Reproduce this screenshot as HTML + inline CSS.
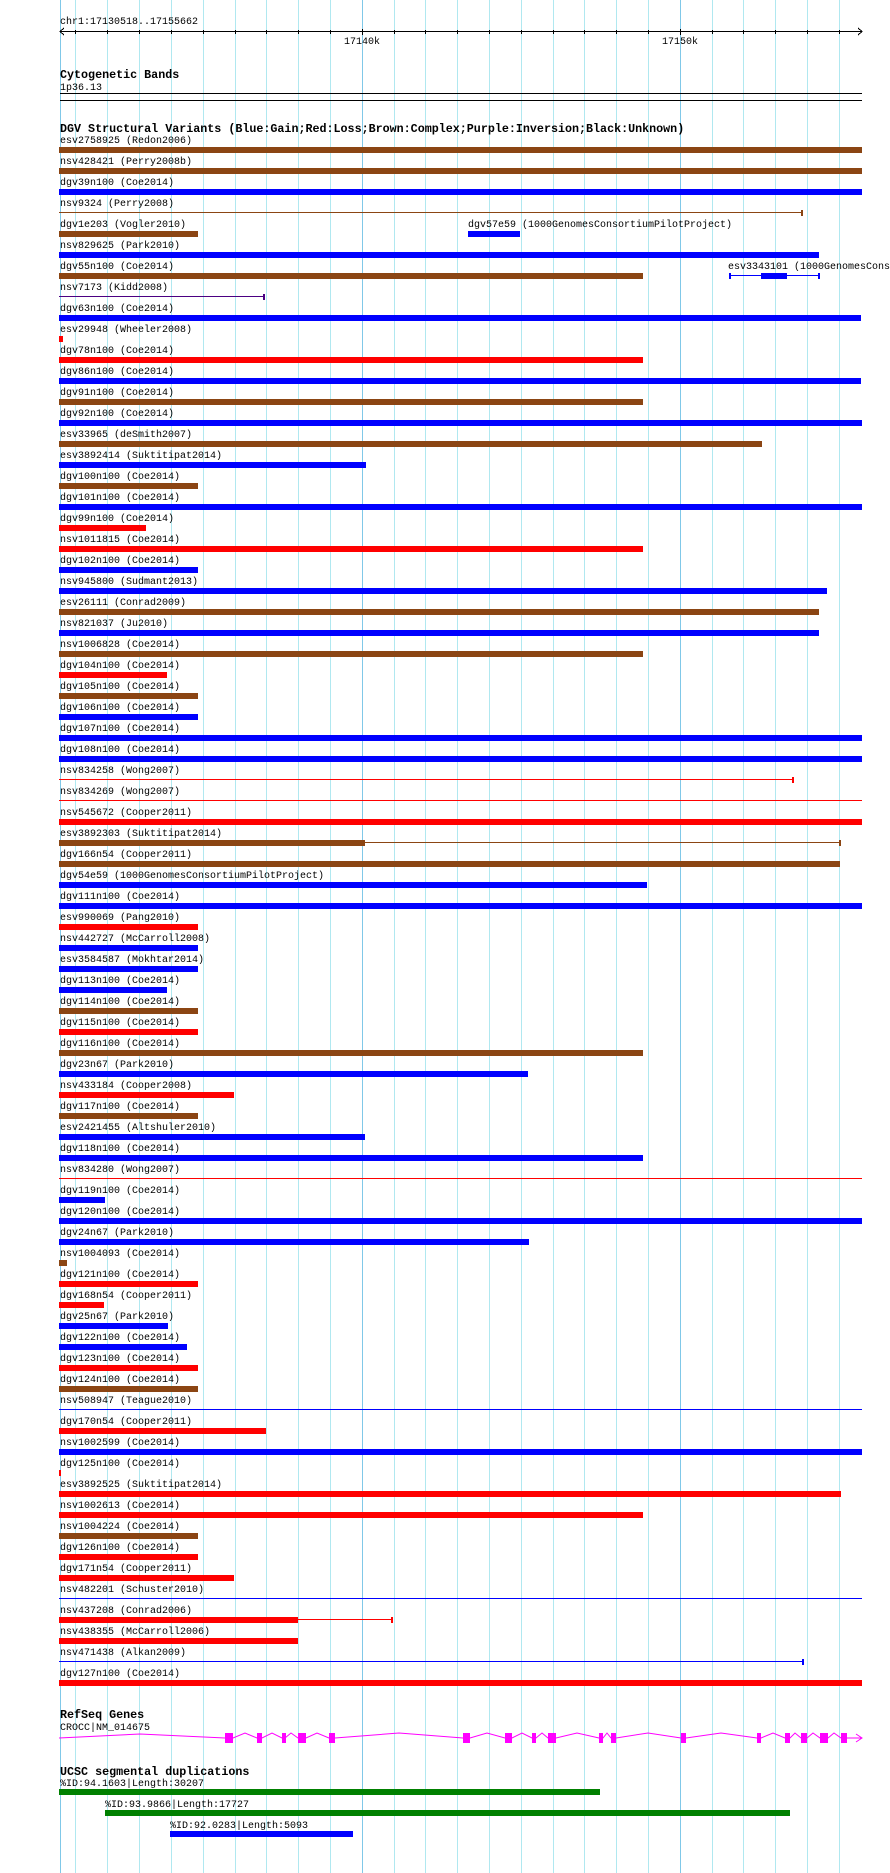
<!DOCTYPE html>
<html><head><meta charset="utf-8"><style>
html,body{margin:0;padding:0;background:#fff;}
svg{display:block;}
text{font-family:"Liberation Mono",monospace;font-size:10px;fill:#000;}
.b{font-weight:bold;font-size:11.7px;}
</style></head><body>
<svg width="890" height="1873" viewBox="0 0 890 1873" shape-rendering="crispEdges">
<g stroke="#b0e8f0" stroke-width="1">
<line x1="75.5" y1="0" x2="75.5" y2="1873"/>
<line x1="107.5" y1="0" x2="107.5" y2="1873"/><line x1="139.5" y1="0" x2="139.5" y2="1873"/><line x1="171.5" y1="0" x2="171.5" y2="1873"/><line x1="203.5" y1="0" x2="203.5" y2="1873"/><line x1="235.5" y1="0" x2="235.5" y2="1873"/><line x1="266.5" y1="0" x2="266.5" y2="1873"/><line x1="298.5" y1="0" x2="298.5" y2="1873"/><line x1="330.5" y1="0" x2="330.5" y2="1873"/><line x1="394.5" y1="0" x2="394.5" y2="1873"/><line x1="425.5" y1="0" x2="425.5" y2="1873"/><line x1="457.5" y1="0" x2="457.5" y2="1873"/><line x1="489.5" y1="0" x2="489.5" y2="1873"/><line x1="521.5" y1="0" x2="521.5" y2="1873"/><line x1="553.5" y1="0" x2="553.5" y2="1873"/><line x1="584.5" y1="0" x2="584.5" y2="1873"/><line x1="616.5" y1="0" x2="616.5" y2="1873"/><line x1="648.5" y1="0" x2="648.5" y2="1873"/><line x1="712.5" y1="0" x2="712.5" y2="1873"/><line x1="743.5" y1="0" x2="743.5" y2="1873"/><line x1="775.5" y1="0" x2="775.5" y2="1873"/><line x1="807.5" y1="0" x2="807.5" y2="1873"/><line x1="839.5" y1="0" x2="839.5" y2="1873"/>
</g>
<g stroke="#80c8e8" stroke-width="1">
<line x1="60.5" y1="0" x2="60.5" y2="1873"/><line x1="362.5" y1="0" x2="362.5" y2="1873"/><line x1="680.5" y1="0" x2="680.5" y2="1873"/>
</g>
<!-- ruler -->
<text x="60" y="24">chr1:17130518..17155662</text>
<g stroke="#000" stroke-width="1">
<line x1="60" y1="31.5" x2="862" y2="31.5"/>
<polyline points="64,28 60,31.5 64,35" fill="none"/>
<polyline points="858,28 862,31.5 858,35" fill="none"/>
<line x1="75.5" y1="30" x2="75.5" y2="34"/><line x1="107.5" y1="30" x2="107.5" y2="34"/><line x1="139.5" y1="30" x2="139.5" y2="34"/><line x1="171.5" y1="30" x2="171.5" y2="34"/><line x1="203.5" y1="30" x2="203.5" y2="34"/><line x1="235.5" y1="30" x2="235.5" y2="34"/><line x1="266.5" y1="30" x2="266.5" y2="34"/><line x1="298.5" y1="30" x2="298.5" y2="34"/><line x1="330.5" y1="30" x2="330.5" y2="34"/><line x1="362.5" y1="29" x2="362.5" y2="35"/><line x1="394.5" y1="30" x2="394.5" y2="34"/><line x1="425.5" y1="30" x2="425.5" y2="34"/><line x1="457.5" y1="30" x2="457.5" y2="34"/><line x1="489.5" y1="30" x2="489.5" y2="34"/><line x1="521.5" y1="30" x2="521.5" y2="34"/><line x1="553.5" y1="30" x2="553.5" y2="34"/><line x1="584.5" y1="30" x2="584.5" y2="34"/><line x1="616.5" y1="30" x2="616.5" y2="34"/><line x1="648.5" y1="30" x2="648.5" y2="34"/><line x1="680.5" y1="29" x2="680.5" y2="35"/><line x1="712.5" y1="30" x2="712.5" y2="34"/><line x1="743.5" y1="30" x2="743.5" y2="34"/><line x1="775.5" y1="30" x2="775.5" y2="34"/><line x1="807.5" y1="30" x2="807.5" y2="34"/><line x1="839.5" y1="30" x2="839.5" y2="34"/>
</g>
<text x="362" y="44" text-anchor="middle">17140k</text>
<text x="680" y="44" text-anchor="middle">17150k</text>
<!-- cyto -->
<text class="b" x="60" y="78">Cytogenetic Bands</text>
<text x="60" y="90">1p36.13</text>
<rect x="60" y="93" width="802" height="1" fill="#000"/>
<rect x="60" y="100" width="802" height="1" fill="#000"/>
<text class="b" x="60" y="132">DGV Structural Variants (Blue:Gain;Red:Loss;Brown:Complex;Purple:Inversion;Black:Unknown)</text>
<!-- rows -->
<g>
<text x="60" y="143">esv2758925 (Redon2006)</text><rect x="59" y="147" width="803" height="6" fill="#8b4513"/>
<text x="60" y="164">nsv428421 (Perry2008b)</text><rect x="59" y="168" width="803" height="6" fill="#8b4513"/>
<text x="60" y="185">dgv39n100 (Coe2014)</text><rect x="59" y="189" width="803" height="6" fill="#0000ff"/>
<text x="60" y="206">nsv9324 (Perry2008)</text><rect x="59" y="212" width="743" height="1" fill="#8b4513"/><rect x="801" y="210" width="2" height="6" fill="#8b4513"/>
<text x="60" y="227">dgv1e203 (Vogler2010)</text><rect x="59" y="231" width="139" height="6" fill="#8b4513"/>
<text x="468" y="227">dgv57e59 (1000GenomesConsortiumPilotProject)</text><rect x="468" y="231" width="52" height="6" fill="#0000ff"/>
<text x="60" y="248">nsv829625 (Park2010)</text><rect x="59" y="252" width="760" height="6" fill="#0000ff"/>
<text x="60" y="269">dgv55n100 (Coe2014)</text><rect x="59" y="273" width="584" height="6" fill="#8b4513"/>
<text x="728" y="269">esv3343101 (1000GenomesCons</text><rect x="729" y="275" width="90" height="1" fill="#0000ff"/><rect x="729" y="273" width="2" height="6" fill="#0000ff"/><rect x="818" y="273" width="2" height="6" fill="#0000ff"/><rect x="761" y="273" width="26" height="6" fill="#0000ff"/>
<text x="60" y="290">nsv7173 (Kidd2008)</text><rect x="59" y="296" width="205" height="1" fill="#4b0082"/><rect x="263" y="294" width="2" height="6" fill="#4b0082"/>
<text x="60" y="311">dgv63n100 (Coe2014)</text><rect x="59" y="315" width="802" height="6" fill="#0000ff"/>
<text x="60" y="332">esv29948 (Wheeler2008)</text><rect x="59" y="336" width="4" height="6" fill="#ff0000"/>
<text x="60" y="353">dgv78n100 (Coe2014)</text><rect x="59" y="357" width="584" height="6" fill="#ff0000"/>
<text x="60" y="374">dgv86n100 (Coe2014)</text><rect x="59" y="378" width="802" height="6" fill="#0000ff"/>
<text x="60" y="395">dgv91n100 (Coe2014)</text><rect x="59" y="399" width="584" height="6" fill="#8b4513"/>
<text x="60" y="416">dgv92n100 (Coe2014)</text><rect x="59" y="420" width="803" height="6" fill="#0000ff"/>
<text x="60" y="437">esv33965 (deSmith2007)</text><rect x="59" y="441" width="703" height="6" fill="#8b4513"/>
<text x="60" y="458">esv3892414 (Suktitipat2014)</text><rect x="59" y="462" width="307" height="6" fill="#0000ff"/>
<text x="60" y="479">dgv100n100 (Coe2014)</text><rect x="59" y="483" width="139" height="6" fill="#8b4513"/>
<text x="60" y="500">dgv101n100 (Coe2014)</text><rect x="59" y="504" width="803" height="6" fill="#0000ff"/>
<text x="60" y="521">dgv99n100 (Coe2014)</text><rect x="59" y="525" width="87" height="6" fill="#ff0000"/>
<text x="60" y="542">nsv1011815 (Coe2014)</text><rect x="59" y="546" width="584" height="6" fill="#ff0000"/>
<text x="60" y="563">dgv102n100 (Coe2014)</text><rect x="59" y="567" width="139" height="6" fill="#0000ff"/>
<text x="60" y="584">nsv945800 (Sudmant2013)</text><rect x="59" y="588" width="768" height="6" fill="#0000ff"/>
<text x="60" y="605">esv26111 (Conrad2009)</text><rect x="59" y="609" width="760" height="6" fill="#8b4513"/>
<text x="60" y="626">nsv821037 (Ju2010)</text><rect x="59" y="630" width="760" height="6" fill="#0000ff"/>
<text x="60" y="647">nsv1006828 (Coe2014)</text><rect x="59" y="651" width="584" height="6" fill="#8b4513"/>
<text x="60" y="668">dgv104n100 (Coe2014)</text><rect x="59" y="672" width="108" height="6" fill="#ff0000"/>
<text x="60" y="689">dgv105n100 (Coe2014)</text><rect x="59" y="693" width="139" height="6" fill="#8b4513"/>
<text x="60" y="710">dgv106n100 (Coe2014)</text><rect x="59" y="714" width="139" height="6" fill="#0000ff"/>
<text x="60" y="731">dgv107n100 (Coe2014)</text><rect x="59" y="735" width="803" height="6" fill="#0000ff"/>
<text x="60" y="752">dgv108n100 (Coe2014)</text><rect x="59" y="756" width="803" height="6" fill="#0000ff"/>
<text x="60" y="773">nsv834258 (Wong2007)</text><rect x="59" y="779" width="734" height="1" fill="#ff0000"/><rect x="792" y="777" width="2" height="6" fill="#ff0000"/>
<text x="60" y="794">nsv834269 (Wong2007)</text><rect x="59" y="800" width="803" height="1" fill="#ff0000"/>
<text x="60" y="815">nsv545672 (Cooper2011)</text><rect x="59" y="819" width="803" height="6" fill="#ff0000"/>
<text x="60" y="836">esv3892303 (Suktitipat2014)</text><rect x="59" y="840" width="306" height="6" fill="#8b4513"/><rect x="365" y="842" width="475" height="1" fill="#8b4513"/><rect x="839" y="840" width="2" height="6" fill="#8b4513"/>
<text x="60" y="857">dgv166n54 (Cooper2011)</text><rect x="59" y="861" width="781" height="6" fill="#8b4513"/>
<text x="60" y="878">dgv54e59 (1000GenomesConsortiumPilotProject)</text><rect x="59" y="882" width="588" height="6" fill="#0000ff"/>
<text x="60" y="899">dgv111n100 (Coe2014)</text><rect x="59" y="903" width="803" height="6" fill="#0000ff"/>
<text x="60" y="920">esv990069 (Pang2010)</text><rect x="59" y="924" width="139" height="6" fill="#ff0000"/>
<text x="60" y="941">nsv442727 (McCarroll2008)</text><rect x="59" y="945" width="139" height="6" fill="#0000ff"/>
<text x="60" y="962">esv3584587 (Mokhtar2014)</text><rect x="59" y="966" width="139" height="6" fill="#0000ff"/>
<text x="60" y="983">dgv113n100 (Coe2014)</text><rect x="59" y="987" width="108" height="6" fill="#0000ff"/>
<text x="60" y="1004">dgv114n100 (Coe2014)</text><rect x="59" y="1008" width="139" height="6" fill="#8b4513"/>
<text x="60" y="1025">dgv115n100 (Coe2014)</text><rect x="59" y="1029" width="139" height="6" fill="#ff0000"/>
<text x="60" y="1046">dgv116n100 (Coe2014)</text><rect x="59" y="1050" width="584" height="6" fill="#8b4513"/>
<text x="60" y="1067">dgv23n67 (Park2010)</text><rect x="59" y="1071" width="469" height="6" fill="#0000ff"/>
<text x="60" y="1088">nsv433184 (Cooper2008)</text><rect x="59" y="1092" width="175" height="6" fill="#ff0000"/>
<text x="60" y="1109">dgv117n100 (Coe2014)</text><rect x="59" y="1113" width="139" height="6" fill="#8b4513"/>
<text x="60" y="1130">esv2421455 (Altshuler2010)</text><rect x="59" y="1134" width="306" height="6" fill="#0000ff"/>
<text x="60" y="1151">dgv118n100 (Coe2014)</text><rect x="59" y="1155" width="584" height="6" fill="#0000ff"/>
<text x="60" y="1172">nsv834280 (Wong2007)</text><rect x="59" y="1178" width="803" height="1" fill="#ff0000"/>
<text x="60" y="1193">dgv119n100 (Coe2014)</text><rect x="59" y="1197" width="46" height="6" fill="#0000ff"/>
<text x="60" y="1214">dgv120n100 (Coe2014)</text><rect x="59" y="1218" width="803" height="6" fill="#0000ff"/>
<text x="60" y="1235">dgv24n67 (Park2010)</text><rect x="59" y="1239" width="470" height="6" fill="#0000ff"/>
<text x="60" y="1256">nsv1004093 (Coe2014)</text><rect x="59" y="1260" width="8" height="6" fill="#8b4513"/>
<text x="60" y="1277">dgv121n100 (Coe2014)</text><rect x="59" y="1281" width="139" height="6" fill="#ff0000"/>
<text x="60" y="1298">dgv168n54 (Cooper2011)</text><rect x="59" y="1302" width="45" height="6" fill="#ff0000"/>
<text x="60" y="1319">dgv25n67 (Park2010)</text><rect x="59" y="1323" width="109" height="6" fill="#0000ff"/>
<text x="60" y="1340">dgv122n100 (Coe2014)</text><rect x="59" y="1344" width="128" height="6" fill="#0000ff"/>
<text x="60" y="1361">dgv123n100 (Coe2014)</text><rect x="59" y="1365" width="139" height="6" fill="#ff0000"/>
<text x="60" y="1382">dgv124n100 (Coe2014)</text><rect x="59" y="1386" width="139" height="6" fill="#8b4513"/>
<text x="60" y="1403">nsv508947 (Teague2010)</text><rect x="59" y="1409" width="803" height="1" fill="#0000ff"/>
<text x="60" y="1424">dgv170n54 (Cooper2011)</text><rect x="59" y="1428" width="207" height="6" fill="#ff0000"/>
<text x="60" y="1445">nsv1002599 (Coe2014)</text><rect x="59" y="1449" width="803" height="6" fill="#0000ff"/>
<text x="60" y="1466">dgv125n100 (Coe2014)</text><rect x="59" y="1470" width="2" height="6" fill="#ff0000"/>
<text x="60" y="1487">esv3892525 (Suktitipat2014)</text><rect x="59" y="1491" width="782" height="6" fill="#ff0000"/>
<text x="60" y="1508">nsv1002613 (Coe2014)</text><rect x="59" y="1512" width="584" height="6" fill="#ff0000"/>
<text x="60" y="1529">nsv1004224 (Coe2014)</text><rect x="59" y="1533" width="139" height="6" fill="#8b4513"/>
<text x="60" y="1550">dgv126n100 (Coe2014)</text><rect x="59" y="1554" width="139" height="6" fill="#ff0000"/>
<text x="60" y="1571">dgv171n54 (Cooper2011)</text><rect x="59" y="1575" width="175" height="6" fill="#ff0000"/>
<text x="60" y="1592">nsv482201 (Schuster2010)</text><rect x="59" y="1598" width="803" height="1" fill="#0000ff"/>
<text x="60" y="1613">nsv437208 (Conrad2006)</text><rect x="59" y="1617" width="239" height="6" fill="#ff0000"/><rect x="298" y="1619" width="94" height="1" fill="#ff0000"/><rect x="391" y="1617" width="2" height="6" fill="#ff0000"/>
<text x="60" y="1634">nsv438355 (McCarroll2006)</text><rect x="59" y="1638" width="239" height="6" fill="#ff0000"/>
<text x="60" y="1655">nsv471438 (Alkan2009)</text><rect x="59" y="1661" width="744" height="1" fill="#0000ff"/><rect x="802" y="1659" width="2" height="6" fill="#0000ff"/>
<text x="60" y="1676">dgv127n100 (Coe2014)</text><rect x="59" y="1680" width="803" height="6" fill="#ff0000"/>
</g>
<!-- RefSeq -->
<text class="b" x="60" y="1718">RefSeq Genes</text>
<text x="60" y="1730">CROCC|NM_014675</text>
<polyline shape-rendering="auto" fill="none" stroke="#ff00ff" stroke-width="1" points="59,1738 140,1734 225,1738 233,1738 245,1733 257,1738 262,1738 272,1733 282,1738 285,1738 291,1733 298,1738 306,1738 317,1733 329,1738 335,1738 399,1733 463,1738 470,1738 487,1733 505,1738 512,1738 522,1733 532,1738 536,1738 542,1733 548,1738 556,1738 577,1733 599,1738 603,1738 607,1733 611,1738 616,1738 648,1733 681,1738 686,1738 721,1733 757,1738 761,1738 773,1733 785,1738 790,1738 795,1733 801,1738 807,1738 813,1733 820,1738 828,1738 834,1733 841,1738 847,1738 862,1738"/>
<polyline shape-rendering="auto" fill="none" stroke="#ff00ff" stroke-width="1" points="856,1734 862,1738 856,1742"/>
<g fill="#ff00ff">
<rect x="225" y="1733" width="8" height="10"/><rect x="257" y="1733" width="5" height="10"/><rect x="282" y="1733" width="4" height="10"/><rect x="298" y="1733" width="8" height="10"/><rect x="329" y="1733" width="6" height="10"/><rect x="463" y="1733" width="7" height="10"/><rect x="505" y="1733" width="7" height="10"/><rect x="532" y="1733" width="4" height="10"/><rect x="548" y="1733" width="8" height="10"/><rect x="599" y="1733" width="4" height="10"/><rect x="611" y="1733" width="5" height="10"/><rect x="681" y="1733" width="5" height="10"/><rect x="757" y="1733" width="4" height="10"/><rect x="785" y="1733" width="5" height="10"/><rect x="801" y="1733" width="6" height="10"/><rect x="820" y="1733" width="8" height="10"/><rect x="841" y="1733" width="6" height="10"/>
</g>
<!-- seg dups -->
<text class="b" x="60" y="1775">UCSC segmental duplications</text>
<text x="60" y="1786">%ID:94.1603|Length:30207</text>
<rect x="59" y="1789" width="541" height="6" fill="#008000"/>
<text x="105" y="1807">%ID:93.9866|Length:17727</text>
<rect x="105" y="1810" width="685" height="6" fill="#008000"/>
<text x="170" y="1828">%ID:92.0283|Length:5093</text>
<rect x="170" y="1831" width="183" height="6" fill="#0000ff"/>
</svg>
</body></html>
